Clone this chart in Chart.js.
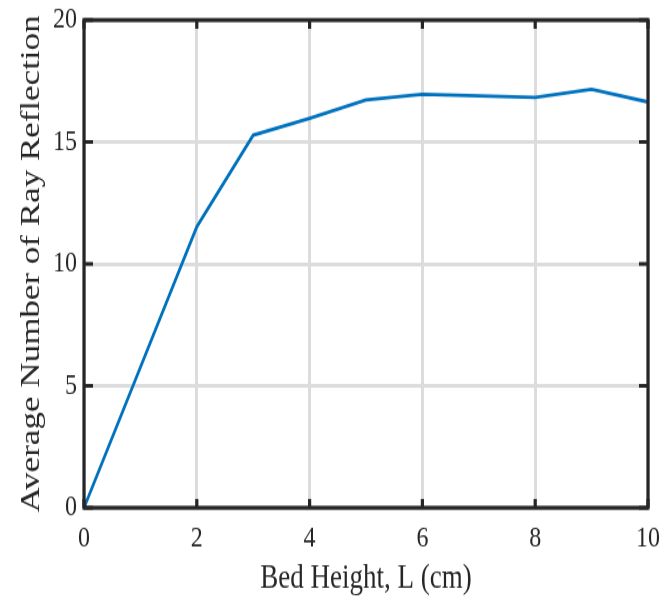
<!DOCTYPE html>
<html>
<head>
<meta charset="utf-8">
<script src="https://cdn.jsdelivr.net/npm/chart.js@4/dist/chart.umd.min.js"></script>
<style>
  body { margin: 0; background: #fff; }
</style>
</head>
<body>
<canvas id="chart" width="661" height="479" style="display:block;width:661px;height:599px"></canvas>
<script>
// DATA
const bedHeight = [0, 2, 3, 4, 5, 6, 8, 9, 10];
const avgReflections = [0, 11.52, 15.28, 15.97, 16.72, 16.95, 16.83, 17.16, 16.64];
const xTicks = [0, 2, 4, 6, 8, 10];
const yTicks = [0, 5, 10, 15, 20];

const FONT = "'Liberation Serif', 'Times New Roman', serif";
const INK = "#262626";

// MARCO Y TICKS HACIA ADENTRO (estilo matlab)
const frameBox = {
  id: "frameBox",
  afterDraw(chart) {
    const { ctx, chartArea: a, scales: { x, y } } = chart;
    ctx.save();
    ctx.strokeStyle = INK;
    ctx.lineWidth = 3.2;
    ctx.strokeRect(a.left, a.top, a.right - a.left, a.bottom - a.top);
    ctx.beginPath();
    xTicks.forEach((v) => {
      const px = x.getPixelForValue(v);
      ctx.moveTo(px, a.bottom); ctx.lineTo(px, a.bottom - 7);
      ctx.moveTo(px, a.top); ctx.lineTo(px, a.top + 7);
    });
    yTicks.forEach((v) => {
      const py = y.getPixelForValue(v);
      ctx.moveTo(a.left, py); ctx.lineTo(a.left + 9, py);
      ctx.moveTo(a.right, py); ctx.lineTo(a.right - 9, py);
    });
    ctx.stroke();
    ctx.restore();
  },
};

const canvasChart = document.getElementById("chart");

new Chart(canvasChart, {
  type: "line",
  data: {
    datasets: [
      {
        data: bedHeight.map((h, i) => ({ x: h, y: avgReflections[i] })),
        borderColor: "#0072BD",
        borderWidth: 2.8,
        pointRadius: 0,
        tension: 0,
        fill: false,
      },
    ],
  },
  options: {
    responsive: false,
    devicePixelRatio: 1,
    animation: false,
    layout: { padding: { top: 16, right: 13, left: 0, bottom: 0 } },
    plugins: { legend: { display: false }, tooltip: { enabled: false } },
    scales: {
      x: {
        type: "linear",
        min: 0,
        max: 10,
        afterBuildTicks: (s) => { s.ticks = xTicks.map((v) => ({ value: v })); },
        afterFit: (s) => { s.height = 73; s.paddingLeft = 0; s.paddingRight = 0; },
        grid: { color: "#dcdcdc", lineWidth: 3, drawTicks: false },
        border: { display: false },
        ticks: { color: INK, padding: 10, font: { family: FONT, size: 24 } },
        title: {
          display: true,
          text: "Bed Height, L (cm)",
          color: INK,
          padding: { top: 0, bottom: 3 },
          font: { family: FONT, size: 27, lineHeight: 1 },
        },
      },
      y: {
        type: "linear",
        min: 0,
        max: 20,
        afterBuildTicks: (s) => { s.ticks = yTicks.map((v) => ({ value: v })); },
        afterFit: (s) => { s.width = 84; s.paddingTop = 0; s.paddingBottom = 0; },
        grid: { color: "#dcdcdc", lineWidth: 3, drawTicks: false },
        border: { display: false },
        ticks: { color: INK, padding: 7, font: { family: FONT, size: 24 } },
        title: {
          display: true,
          text: "Average Number of Ray Reflection",
          color: INK,
          padding: { top: 18, bottom: 0 },
          font: { family: FONT, size: 28, lineHeight: 1 },
        },
      },
    },
  },
  plugins: [frameBox],
});
</script>
</body>
</html>
